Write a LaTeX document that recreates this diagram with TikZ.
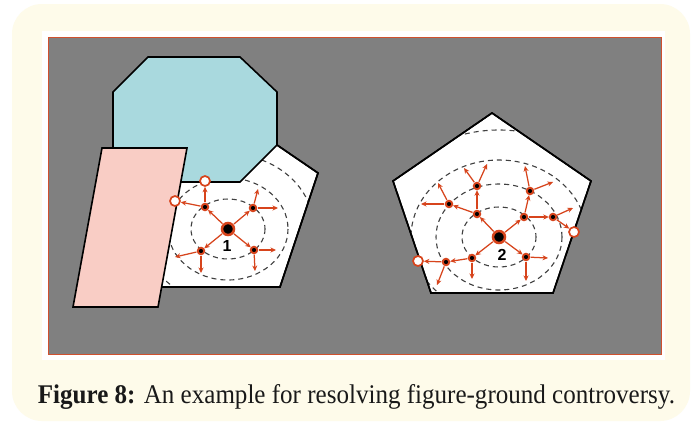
\documentclass[tikz,border=0pt]{standalone}
\usepackage{fontspec}
\setmainfont{Liberation Serif}
\setsansfont{Liberation Sans}
\usepackage{graphicx}
\usepackage{tikz}
\usetikzlibrary{arrows.meta}

\definecolor{cream}{HTML}{FEFBEA}
\definecolor{panel}{HTML}{808080}
\definecolor{frame}{HTML}{D0502E}
\definecolor{octcyan}{HTML}{A9D9DE}
\definecolor{parpink}{HTML}{F9CDC5}
\definecolor{dotred}{HTML}{D7441C}

\begin{document}
\begin{tikzpicture}[x=1pt, y=-1pt, >=Stealth]
    \tikzset{
        outline/.style={draw=black, line width=1.6pt, line join=miter},
        ring/.style={dashed, draw=black!75, line width=1.1pt, dash pattern=on 5pt off 4pt},
        pt/.style={circle, fill=black, draw=dotred, line width=1.9pt, minimum size=6.5pt, inner sep=0pt},
        core/.style={circle, fill=black, draw=dotred, line width=2.5pt, minimum size=12pt, inner sep=0pt},
        hole/.style={circle, fill=white, draw=dotred, line width=1.7pt, minimum size=10pt, inner sep=0pt},
        flow/.style={draw=dotred, line width=1.25pt, shorten <=0.5pt, -{Stealth[length=5.5pt, width=5pt]}},
        num/.style={font=\sffamily\bfseries\fontsize{16}{16}\selectfont},
    }
    % page and panel
    \useasboundingbox (0,0) rectangle (692,423);
    \fill[white] (0,0) rectangle (692,423);
    \fill[cream, rounded corners=30pt] (12,4) rectangle (690,421);
    \fill[white] (42,31) rectangle (665,360);
    \filldraw[fill=panel, draw=frame, line width=0.8pt] (48,37) rectangle (661,354);

    % left: white pentagon, rings clipped to it
    \filldraw[fill=white, outline] (236,117) -- (318,173) -- (280,287) -- (150,287) -- (140,190) -- cycle;
    \begin{scope}
        \clip (236,117) -- (318,173) -- (280,287) -- (150,287) -- (140,190) -- cycle;
        \draw[ring] (228,229) ellipse (37 and 30);
        \draw[ring] (228,229) ellipse (60 and 51);
        \draw[ring] (228,229) ellipse (86 and 75);
    \end{scope}
    \draw[outline] (236,117) -- (318,173) -- (280,287) -- (150,287);

    % octagon and parallelogram on top
    \filldraw[fill=octcyan, outline] (148,57) -- (240,57) -- (277,92) -- (277,145) -- (240,182)
        -- (148,182) -- (113,147) -- (113,92) -- cycle;
    \filldraw[fill=parpink, outline] (102,148) -- (187,148) -- (158,307) -- (73,307) -- cycle;

    % left: spreading points
    \node[core] (c1) at (228,229) {};
    \node[num] (n1) at (227,246) {1};
    \node[pt] (a1) at (205,207) {};
    \node[pt] (b1) at (253,208) {};
    \node[pt] (d1) at (201,251) {};
    \node[pt] (e1) at (254,250) {};
    \node[hole] (h1) at (205,181) {};
    \node[hole] (h2) at (175,201) {};
    \coordinate (b1u) at (258,189);
    \coordinate (b1r) at (278,208);
    \coordinate (d1l) at (175,257);
    \coordinate (d1d) at (201,273);
    \coordinate (e1r) at (276,250);
    \coordinate (e1d) at (255,271);
    \draw[flow] (c1) -- (a1);
    \draw[flow] (c1) -- (b1);
    \draw[flow] (c1) -- (d1);
    \draw[flow] (c1) -- (e1);
    \draw[flow] (a1) -- (h1);
    \draw[flow] (a1) -- (h2);
    \draw[flow] (b1) -- (b1u);
    \draw[flow] (b1) -- (b1r);
    \draw[flow] (d1) -- (d1l);
    \draw[flow] (d1) -- (d1d);
    \draw[flow] (e1) -- (e1r);
    \draw[flow] (e1) -- (e1d);

    % right: pentagon with rings
    \filldraw[fill=white, outline] (492,113) -- (591,181) -- (553,293) -- (431,293) -- (393,181) -- cycle;
    \begin{scope}
        \clip (492,113) -- (591,181) -- (553,293) -- (431,293) -- (393,181) -- cycle;
        \draw[ring] (499,237) ellipse (37 and 30);
        \draw[ring] (499,237) ellipse (63 and 53);
        \draw[ring] (499,237) ellipse (88 and 77);
        \draw[ring] (499,237) ellipse (125 and 107);
    \end{scope}
    \draw[outline] (492,113) -- (591,181) -- (553,293) -- (431,293) -- (393,181) -- cycle;

    % right: spreading points
    \node[core] (c2) at (499,237) {};
    \node[num] (n2) at (502,255) {2};
    \node[pt] (p1) at (477,214) {};
    \node[pt] (p2) at (524,217) {};
    \node[pt] (p3) at (472,258) {};
    \node[pt] (p4) at (526,257) {};
    \node[pt] (q1) at (477,186) {};
    \node[pt] (q2) at (449,204) {};
    \node[pt] (q3) at (530,191) {};
    \node[pt] (q4) at (553,217) {};
    \node[pt] (q5) at (446,262) {};
    \node[hole] (h3) at (574,232) {};
    \node[hole] (h4) at (418,261) {};
    \coordinate (q1l) at (464,168);
    \coordinate (q1r) at (487,164);
    \coordinate (q2u) at (438,183);
    \coordinate (q2l) at (421,204);
    \coordinate (q3u) at (525,166);
    \coordinate (q3r) at (553,182);
    \coordinate (q4r) at (573,208);
    \coordinate (p3d) at (472,279);
    \coordinate (q5d) at (437,285);
    \coordinate (p4r) at (548,258);
    \coordinate (p4d) at (526,281);
    \draw[flow] (c2) -- (p1);
    \draw[flow] (c2) -- (p2);
    \draw[flow] (c2) -- (p3);
    \draw[flow] (c2) -- (p4);
    \draw[flow] (p1) -- (q1);
    \draw[flow] (p1) -- (q2);
    \draw[flow] (p2) -- (q3);
    \draw[flow] (p2) -- (q4);
    \draw[flow] (p3) -- (q5);
    \draw[flow] (p3) -- (p3d);
    \draw[flow] (p4) -- (p4r);
    \draw[flow] (p4) -- (p4d);
    \draw[flow] (q1) -- (q1l);
    \draw[flow] (q1) -- (q1r);
    \draw[flow] (q2) -- (q2u);
    \draw[flow] (q2) -- (q2l);
    \draw[flow] (q3) -- (q3u);
    \draw[flow] (q3) -- (q3r);
    \draw[flow] (q4) -- (q4r);
    \draw[flow] (q4) -- (h3);
    \draw[flow] (q5) -- (h4);
    \draw[flow] (q5) -- (q5d);

    % caption
    \node[inner sep=0pt, anchor=base, text=black!90] (cap) at (356.5,403)
        {\resizebox{637pt}{19pt}{\textbf{Figure 8:} An example for resolving figure-ground controversy.}};
\end{tikzpicture}
\end{document}
